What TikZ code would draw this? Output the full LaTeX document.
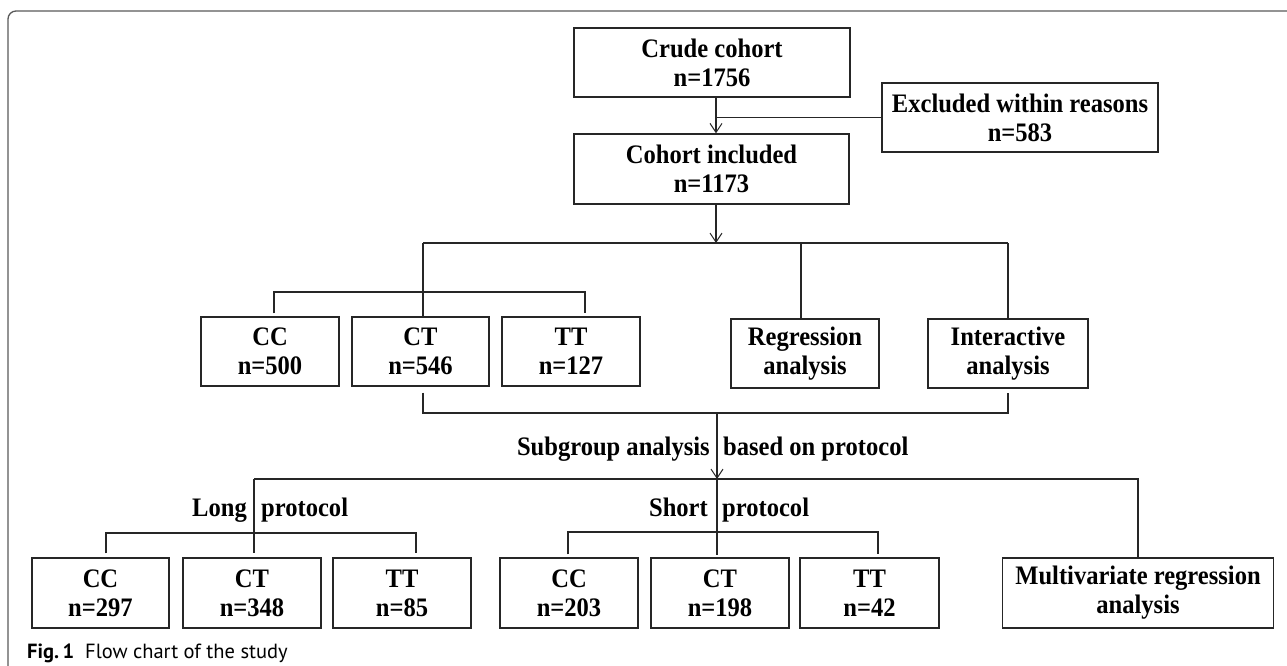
\documentclass[tikz,border=0pt]{standalone}
\usepackage{fontspec}
\setmainfont{Liberation Serif}
\newfontfamily\boxfont{Liberation Serif}[FakeStretch=0.92]
\newfontfamily\capfont{PT Sans}
\usetikzlibrary{arrows.meta,calc}
\begin{document}
\begin{tikzpicture}[x=1pt,y=-1pt,
  box/.style={draw=black!85, line width=1.4pt, fill=white, inner sep=0pt, align=center,
    font=\boxfont\bfseries\fontsize{26.7}{29}\selectfont},
  ln/.style={line width=1.2pt, draw=black!85},
  arr/.style={ln, -{Straight Barb[length=9pt,width=12pt,line width=1pt]}},
  lbl/.style={inner sep=0pt, font=\boxfont\bfseries\fontsize{26.7}{29}\selectfont},
  frame/.style={line width=1.3pt, draw=black!65, rounded corners=8pt}]
\useasboundingbox (0,0) rectangle (1287,666);
\draw[frame] (8,666) -- (8,11) -- (1287,11);

% top boxes
\node[box, minimum width=276pt, minimum height=69pt] (crude) at (712,62.5) {Crude cohort\\n=1756};
\node[box, minimum width=276pt, minimum height=69pt] (excl) at (1020,117.5) {Excluded within reasons\\n=583};
\node[box, minimum width=275pt, minimum height=70pt] (cohort) at (711.5,169) {Cohort included\\n=1173};

% second row
\node[box, minimum width=138pt, minimum height=69pt] (cc1) at (270,351.5) {CC\\n=500};
\node[box, minimum width=137pt, minimum height=69pt] (ct1) at (420.5,351.5) {CT\\n=546};
\node[box, minimum width=138pt, minimum height=69pt] (tt1) at (571,351.5) {TT\\n=127};
\node[box, minimum width=148pt, minimum height=69pt] (reg) at (805,353.5) {Regression\\analysis};
\node[box, minimum width=160pt, minimum height=69pt] (inter) at (1008,353.5) {Interactive\\analysis};

% third row
\node[box, minimum width=137pt, minimum height=70pt] (lcc) at (100.5,593) {CC\\n=297};
\node[box, minimum width=138pt, minimum height=70pt] (lct) at (252,593) {CT\\n=348};
\node[box, minimum width=138pt, minimum height=70pt] (ltt) at (402,593) {TT\\n=85};
\node[box, minimum width=138pt, minimum height=70pt] (scc) at (569,593) {CC\\n=203};
\node[box, minimum width=138pt, minimum height=70pt] (sct) at (720,593) {CT\\n=198};
\node[box, minimum width=139pt, minimum height=70pt] (stt) at (869.5,593) {TT\\n=42};
\node[box, minimum width=271pt, minimum height=70pt] (mv) at (1138,593) {Multivariate regression\\analysis};

% top connectors
\coordinate (a1) at (716,0);
\draw[arr] (crude.south -| a1) -- (cohort.north -| a1);
\draw[ln] (excl.west) -- (excl.west -| a1);
\coordinate (j1) at (716,243);
\draw[arr] (cohort.south -| j1) -- (j1);
\coordinate (b1L) at (423,243);
\coordinate (b1M) at (801,243);
\coordinate (b1R) at (1008,243);
\draw[ln] (b1L) -- (b1R);
\draw[ln] (b1L) -- (ct1.north -| b1L);
\draw[ln] (b1M) -- (reg.north -| b1M);
\draw[ln] (b1R) -- (inter.north);
\coordinate (g1L) at (274,292);
\coordinate (g1R) at (585,292);
\draw[ln] ($(cc1.north -| g1L)+(0,-3)$) -- (g1L) -- (g1R) -- ($(tt1.north -| g1R)+(0,-3)$);

% subgroup connectors
\coordinate (c1L) at (423,413);
\coordinate (c1R) at (1008,413);
\draw[ln] ($(ct1.south -| c1L)+(0,6)$) -- (c1L) -- (c1R) -- ($(inter.south)+(0,4)$);
\coordinate (s1) at (717,413);
\coordinate (s2) at (717,479);
\draw[arr] (s1) -- (s2);
\node[lbl, anchor=base east] (sgA) at (710,455) {Subgroup analysis};
\node[lbl, anchor=base west] (sgB) at (723,455) {based on protocol};

\coordinate (h2L) at (254,479);
\coordinate (h2R) at (1138,479);
\draw[ln] (h2L) -- (h2R) -- (mv.north);

% long protocol
\coordinate (lj) at (254,533);
\coordinate (lL) at (106,533);
\coordinate (lR) at (416,533);
\draw[ln] (h2L) -- (lj);
\draw[ln] ($(lcc.north -| lL)+(0,-4)$) -- (lL) -- (lR) -- ($(ltt.north -| lR)+(0,-4)$);
\draw[ln] (lj) -- ($(lct.north -| lj)+(0,-4)$);
\node[lbl, anchor=base east] (lgA) at (247,516) {Long};
\node[lbl, anchor=base west] (lgB) at (261,516) {protocol};

% short protocol
\coordinate (sj) at (717,532);
\coordinate (sL) at (568,532);
\coordinate (sR) at (878,532);
\draw[ln] (s2) -- (sj);
\draw[ln] ($(scc.north -| sL)+(0,-3)$) -- (sL) -- (sR) -- ($(stt.north -| sR)+(0,-3)$);
\draw[ln] (sj) -- ($(sct.north -| sj)+(0,-2)$);
\node[lbl, anchor=base east] (shA) at (708,516) {Short};
\node[lbl, anchor=base west] (shB) at (722,516) {protocol};

% caption
\node[anchor=base west, inner sep=0pt, font=\capfont\fontsize{20.5}{24}\selectfont] (cap) at (27,658)
  {\textbf{Fig.\,1}\hspace{11pt}Flow chart of the study};
\end{tikzpicture}
\end{document}
